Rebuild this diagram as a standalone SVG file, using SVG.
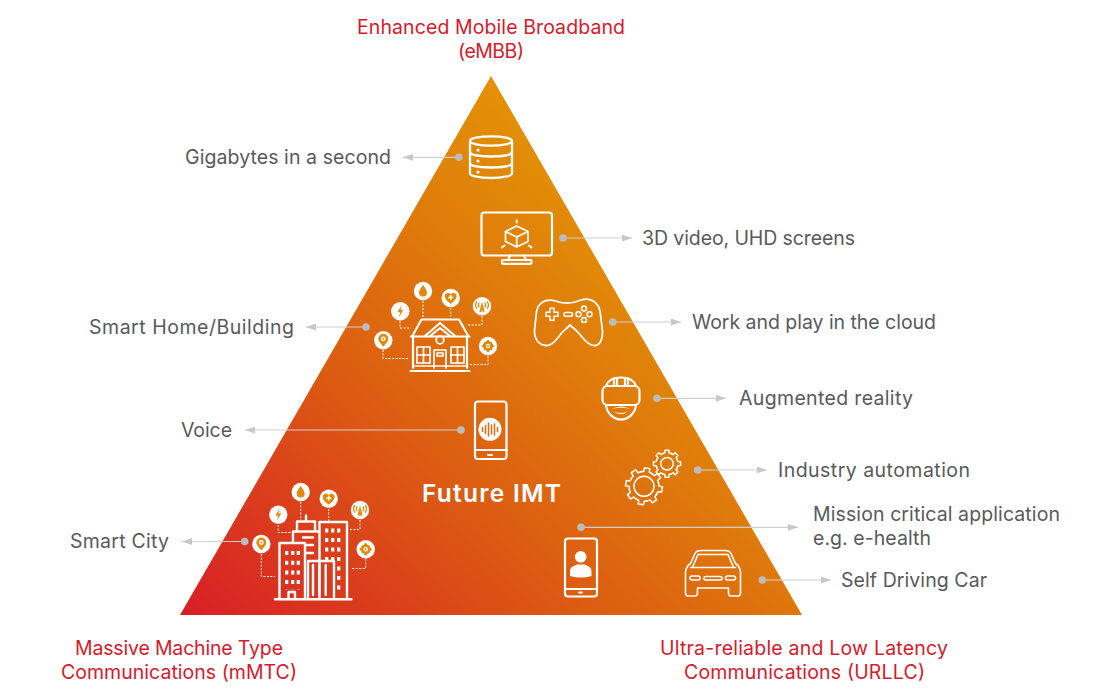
<svg xmlns="http://www.w3.org/2000/svg" xmlns:xlink="http://www.w3.org/1999/xlink" width="1120" height="700" viewBox="0 0 1120 700">
<style>
text{font-family:"Inter","Open Sans","Liberation Sans",sans-serif;font-size:19.5px}
.g{fill:#58595b}
.r{fill:#d8192b;text-anchor:middle}
.w{fill:none;stroke:#fff;stroke-width:2.2;stroke-linejoin:round;stroke-linecap:round}
.t{fill:none;stroke:#fff;stroke-width:1.5;stroke-linejoin:round;stroke-linecap:round}
.f{fill:#fff}
.d{fill:none;stroke:#fff;stroke-width:1;stroke-dasharray:2 1.5}
.o{fill:#e08a0c}
.os{fill:none;stroke:#e08a0c;stroke-width:1.3}
.c{fill:none;stroke:#cfcfcf;stroke-width:1.2;marker-end:url(#ah)}
.dot{fill:#bcbcbc}
</style>
<defs>
<linearGradient id="tg" gradientUnits="userSpaceOnUse" x1="180" y1="615" x2="600" y2="170">
<stop offset="0" stop-color="#d91e27"/>
<stop offset="0.45" stop-color="#dc5a12"/>
<stop offset="0.75" stop-color="#df7c0b"/>
<stop offset="1" stop-color="#e39206"/>
</linearGradient>
<marker id="ah" markerUnits="userSpaceOnUse" markerWidth="10" markerHeight="7" refX="10" refY="3.5" orient="auto"><path d="M0 0L10 3.5L0 7Z" fill="#c8c8c8"/></marker>
<path id="tooth" d="M-5.55-13.4L-2.77-14.23L-2.5-17.82H2.5L2.77-14.23L5.55-13.4"/>
<g id="gear">
<use href="#tooth"/><use href="#tooth" transform="rotate(45)"/><use href="#tooth" transform="rotate(90)"/><use href="#tooth" transform="rotate(135)"/><use href="#tooth" transform="rotate(180)"/><use href="#tooth" transform="rotate(225)"/><use href="#tooth" transform="rotate(270)"/><use href="#tooth" transform="rotate(315)"/>
</g>
<g id="i-pin"><circle r="9.2" class="f"/><path class="o" d="M0-6.5a5 5 0 0 1 5 5c0 3-3 5-5 8c-2-3-5-5-5-8a5 5 0 0 1 5-5z"/><circle cy="-1.5" r="2.4" fill="#fff"/><circle cy="-1.5" r="1" class="o"/></g>
<g id="i-bolt"><circle r="9.2" class="f"/><path class="o" d="M1.5-6.5L-3 1H0L-1.5 6.5L3-1.5H0.2z"/></g>
<g id="i-drop"><circle r="9.2" class="f"/><path class="o" d="M0-6C2-3 4-1 4 1.5a4 4 0 0 1-8 0C-4-1-2-3 0-6z"/></g>
<g id="i-heart"><circle r="9.2" class="f"/><path class="o" d="M0 6C-3 3.5-6 1-6-2a3.2 3.2 0 0 1 6-1.5A3.2 3.2 0 0 1 6-2C6 1 3 3.5 0 6z"/><path d="M0-3v5M-2.500-.5h5" stroke="#fff" stroke-width="1.5"/></g>
<g id="i-ant"><circle r="9.2" class="f"/><path class="os" d="M0-1.500V6M-2 5.500L0-2L2 5.500M-2.800-3.500a3.500 3.500 0 0 0 0 4.500M2.800-3.500a3.500 3.500 0 0 1 0 4.500M-5-5a6 6 0 0 0 0 7.500M5-5a6 6 0 0 1 0 7.500"/></g>
<g id="i-flower"><circle r="9.2" class="f"/><path class="o" d="M0-6.500L2.500-4L4-4L4-2.500L6.500 0L4 2.500L4 4L2.500 4L0 6.500L-2.500 4L-4 4L-4 2.500L-6.500 0L-4-2.500L-4-4L-2.500-4Z"/><circle r="2.200" fill="#fff"/><circle r="1" class="o"/></g>
</defs>
<polygon id="pyramid" points="491,76 802,615 180,615" fill="url(#tg)"/>

<g id="connectors">
<path class="c" d="M459 157.300H403"/>
<path class="c" d="M563 238H632"/>
<path class="c" d="M612.700 322H681"/>
<path class="c" d="M657 398.300H726"/>
<path class="c" d="M697.700 470H767"/>
<path class="c" d="M581 527.300H798"/>
<path class="c" d="M762.300 580H831"/>
<path class="c" d="M366 327H306"/>
<path class="c" d="M461 430H245"/>
<path class="c" d="M244.700 541.500H182"/>
<circle class="dot" cx="459" cy="157.300" r="3.800"/>
<circle class="dot" cx="563" cy="238" r="3.800"/>
<circle class="dot" cx="612.700" cy="322" r="3.800"/>
<circle class="dot" cx="657" cy="398.300" r="3.800"/>
<circle class="dot" cx="697.700" cy="470" r="3.800"/>
<circle class="dot" cx="581" cy="527.300" r="3.800"/>
<circle class="dot" cx="762.300" cy="580" r="3.800"/>
<circle class="dot" cx="366" cy="327" r="3.800"/>
<circle class="dot" cx="461" cy="430" r="3.800"/>
<circle class="dot" cx="244.700" cy="541.500" r="3.800"/>
</g>

<g id="node-embb"><text class="r" x="491" y="34" textLength="268">Enhanced Mobile Broadband</text><text class="r" x="491" y="58" textLength="66">(eMBB)</text></g>
<g id="node-mmtc"><text class="r" x="179" y="655" textLength="208">Massive Machine Type</text><text class="r" x="179" y="679" textLength="236">Communications (mMTC)</text></g>
<g id="node-urllc"><text class="r" x="804" y="655" textLength="288">Ultra-reliable and Low Latency</text><text class="r" x="804.500" y="679" textLength="241">Communications (URLLC)</text></g>
<g id="node-future"><text x="491.500" y="501.500" text-anchor="middle" fill="#fff" font-weight="600" style="font-size:24.500px" textLength="139">Future IMT</text></g>

<g id="node-gigabytes">
<text class="g" x="185" y="164" textLength="206">Gigabytes in a second</text>
<g class="w" style="stroke-width:2.300"><ellipse cx="491" cy="141" rx="21" ry="4.600"/><path d="M470 141V173.500C470 176 480 178 491 178S512 176 512 173.500V141M470 152C470 155 480 156.500 491 156.500S512 155 512 152M470 163C470 166 480 167.500 491 167.500S512 166 512 163"/></g>
<circle class="f" cx="478" cy="150" r="1.600"/><circle class="f" cx="478" cy="161" r="1.600"/><circle class="f" cx="478" cy="172" r="1.600"/>
</g>

<g id="node-3d">
<text class="g" x="642" y="245" textLength="213">3D video, UHD screens</text>
<g class="w"><rect x="481.500" y="212.500" width="70.500" height="43" rx="3"/><path d="M510 255.500L508 260M524 255.500L526 260"/><rect x="502" y="260" width="29.500" height="3.800" rx="1"/>
<path d="M516.700 226L528 231.500V241.500L516.700 247L505.500 241.500V231.500ZM505.500 231.500L516.700 237L528 231.500M516.700 237V247" style="stroke-width:1.700"/></g>
<path class="t" d="M516.700 220.500V222.500M502 247.500L504.500 245.500M531.500 247.500L529 245.500" style="stroke-width:2"/>
</g>

<g id="node-gamepad">
<text class="g" x="692" y="329" textLength="244">Work and play in the cloud</text>
<path class="t" style="stroke-width:1.800" d="M556 301C545 298 538 303 536.500 312L534.500 330C534 339 539 345 546 345.500C552 346 556 340 560 335C563 331 566 329 568 327L570 325L572 327C575 329 578 332 582 337C586 342 590 346 595 345.500C600 345 603 339 602.500 331L600 311C598 302 590 297 581 300C576 302 573 303 568 303C563 303 560 303 556 301Z"/>
<path class="t" d="M550 308.300H554V312.300H558V316.300H554V320.300H550V316.300H546V312.300H550Z"/>
<rect x="564" y="312.500" width="8.500" height="3.800" rx="1.900" class="t"/>
<circle class="t" cx="584" cy="308.500" r="2.500"/><circle class="t" cx="584" cy="320" r="2.500"/><circle class="t" cx="578.500" cy="314.300" r="2.500"/><circle class="t" cx="589.500" cy="314.300" r="2.500"/>
</g>

<g id="node-ar">
<text class="g" x="739" y="405" textLength="174">Augmented reality</text>
<g class="w"><rect x="602.500" y="386" width="37" height="19" rx="5"/><path d="M606 386C608 380 614 377.500 621 377.500S634 380 636 386M606 405C607 414 614 419.500 621 419.500S635 414 636 405M614 378V386M628 378V386M617 378.500V386M625 378.500V386"/></g>
<path class="f" d="M612 409Q621 404 630 409Q621 406.500 612 409ZM615 411.500Q621 414.500 627 411.500L626.500 412.500Q621 415.500 615.500 412.500Z"/>
</g>

<g id="node-gears">
<text class="g" x="778" y="477" textLength="192">Industry automation</text>
<circle class="t" cx="644" cy="486.300" r="10"/>
<use href="#gear" transform="translate(644 486.300) rotate(10) scale(1.030)" fill="none" stroke="#fff" stroke-width="1.500" stroke-linejoin="round" stroke-linecap="round"/>
<circle class="t" cx="667" cy="463.700" r="6.300"/>
<use href="#gear" transform="translate(667 463.700) scale(.76)" fill="none" stroke="#fff" stroke-width="2" stroke-linejoin="round" stroke-linecap="round"/>
</g>

<g id="node-voice">
<text class="g" x="181" y="437" textLength="51">Voice</text>
<rect class="w" x="475" y="401.500" width="31.500" height="57.500" rx="3"/><path class="w" d="M475 450H506.500"/><rect x="487" y="454" width="6" height="2" rx="1" class="f"/>
<circle class="f" cx="490" cy="429.300" r="11.500"/>
<path d="M482.500 427.500v4M485.500 425.500v8M488.500 423v13M491.500 425v9M494.500 424v11M497.500 427.500v4" stroke="#e06c10" stroke-width="1.500" stroke-linecap="round"/>
</g>

<g id="node-home">
<text class="g" x="89" y="334" textLength="205">Smart Home/Building</text>
<path class="d" d="M383 350V358.500H408M400 321V328H411M423 301V317M450.700 308V317M482 316V325H468M488 356V364.500H470"/>
<use href="#i-pin" x="383.300" y="340.300"/><use href="#i-bolt" x="400.300" y="311.300"/><use href="#i-drop" x="423" y="291"/><use href="#i-heart" x="450.700" y="298"/><use href="#i-ant" x="482" y="306.300"/><use href="#i-flower" x="488" y="346"/>
<g class="w"><path d="M411 336.500H469.500M412 336.500L421.500 319.500H459L468.500 336.500M425 336L440 323L455 336M430 336L440 328L450 336M413 337V368M467 337V368M410.500 371H469.500"/><circle cx="440" cy="340" r="3.800" style="stroke-width:1.800"/>
<g style="stroke-width:1.700"><rect x="417" y="347" width="13" height="16"/><path d="M423.500 347V363M417 355H430"/><rect x="451" y="347" width="13" height="16"/><path d="M457.500 347V363M451 355H464"/><path d="M434 368V350H446V368M437 353H443V356H437Z"/><path d="M415 366H465"/></g></g>
</g>

<g id="node-city">
<text class="g" x="70" y="548" textLength="99">Smart City</text>
<path class="d" d="M261.300 554V576.500H275M278.300 525V532.500H292M300.700 502V520M328.700 509V521M360 520V529.500H349M365.700 559V568.500H351"/>
<use href="#i-pin" x="261.300" y="544"/><use href="#i-bolt" x="278.300" y="514.700"/><use href="#i-drop" x="300.700" y="492"/><use href="#i-heart" x="328.700" y="498.700"/><use href="#i-ant" x="360" y="510"/><use href="#i-flower" x="365.700" y="549.300"/>
<g class="w" style="stroke-width:2.400"><path d="M275 599.300H351.500M279.500 598V543H305V598M293 543V531.500H319M297 531V521.500H315V531M306 521V515.500M319.500 598V522H347V598M308 598V561H334V598M303 537.500H313M305 545H313M305 553H313"/><path d="M288.500 598V592H295V598"/></g>
<path class="t" style="stroke-width:2.400" d="M313 565V595M319.300 565V595M325.700 565V595"/>
<path stroke="#fff" stroke-width="3.200" stroke-dasharray="4 5.700" fill="none" d="M286.700 551V590M292.700 551V590M298.300 551V590"/>
<path stroke="#fff" stroke-width="3.200" stroke-dasharray="4 5.500" fill="none" d="M326.700 528.500V560M332.700 528.500V560M338.700 528.500V590"/>
</g>

<g id="node-mission">
<text class="g" x="813" y="521" textLength="247">Mission critical application</text>
<text class="g" x="813" y="545" textLength="118">e.g. e-health</text>
<rect class="w" x="565" y="538.500" width="32" height="58" rx="3"/><path class="w" d="M565 589H597"/><rect x="578" y="591.500" width="5" height="2" rx="1" class="f"/>
<circle class="f" cx="580.700" cy="556.800" r="5.800"/><path class="f" d="M570 576V571C570 567 574 566 577 564.500H584.500C587.500 566 591.500 567 591.500 571V576Q581 579 570 576Z"/>
</g>

<g id="node-car">
<text class="g" x="841" y="587" textLength="146">Self Driving Car</text>
<g class="t" style="stroke-width:1.600"><path d="M685.500 572C686 568 688 565 690.500 563.500L695 553.500C696 551.500 698 550.500 701 550.500H725C728 550.500 730 551.500 731 553.500L735.500 563.500C738 565 740 568 740.500 572V593C740.500 595 739.500 596 738 596H731C729.500 596 728.500 595 728.500 593V588H697.500V593C697.500 595 696.500 596 695 596H688C686.500 596 685.500 595 685.500 593Z"/><path d="M690.500 567.500H735.500M693 566L698 554.500H728L733 566"/><rect x="690" y="576" width="10" height="4" rx="2"/><rect x="704" y="576.500" width="18" height="3.500" rx="1.700"/><rect x="725.500" y="576" width="10" height="4" rx="2"/></g>
</g>
</svg>
